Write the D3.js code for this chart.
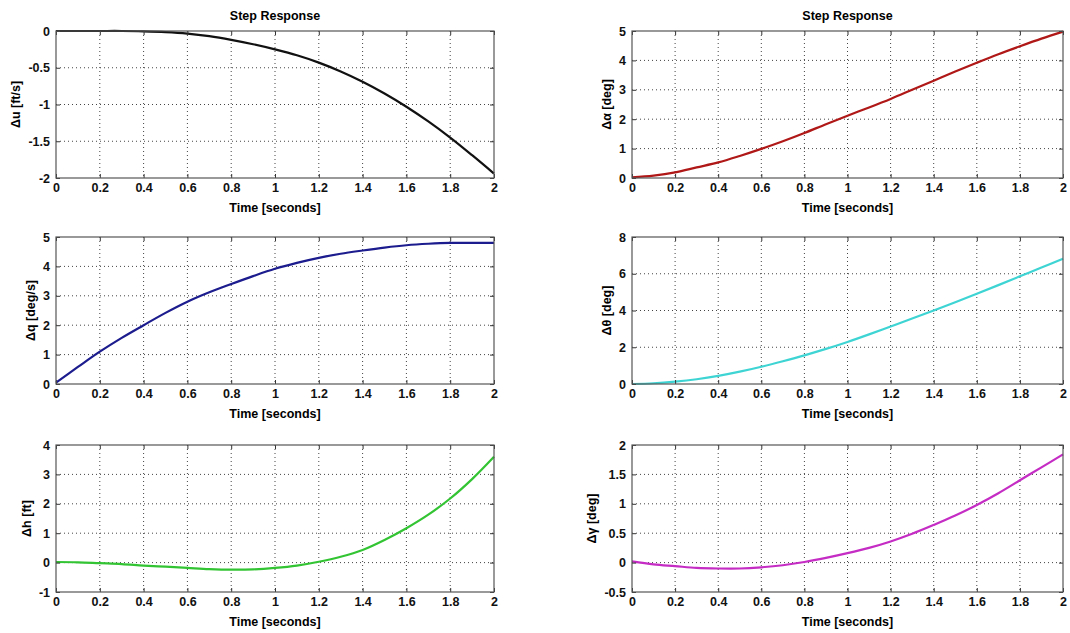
<!DOCTYPE html>
<html>
<head>
<meta charset="utf-8">
<script src="https://cdn.jsdelivr.net/npm/d3@7/dist/d3.min.js"></script>
<style>
    body { margin: 0; background: #fff; }
    svg { display: block; font-family: "Liberation Sans", Arial, sans-serif; }
    .tick text { font-size: 12.5px; font-weight: bold; fill: #111; }
</style>
</head>
<body>
<svg id="chart" width="1070" height="633"></svg>
<script>
// time samples [seconds]
const time = [0, 0.1, 0.2, 0.3, 0.4, 0.5, 0.6, 0.7, 0.8, 0.9, 1.0,
    1.1, 1.2, 1.3, 1.4, 1.5, 1.6, 1.7, 1.8, 1.9, 2.0];

// step response values
const duValues = [0, 0, 0, 0, -0.005, -0.015, -0.035, -0.07, -0.12, -0.18, -0.25,
    -0.33, -0.43, -0.55, -0.69, -0.85, -1.03, -1.23, -1.45, -1.69, -1.94];
const dalphaValues = [0.02, 0.08, 0.19, 0.36, 0.53, 0.75, 0.99, 1.25, 1.53, 1.83, 2.12,
    2.4, 2.69, 3.0, 3.31, 3.62, 3.92, 4.21, 4.48, 4.74, 4.98];
const dqValues = [0.05, 0.58, 1.1, 1.57, 2.0, 2.42, 2.8, 3.12, 3.4, 3.67, 3.92,
    4.12, 4.29, 4.43, 4.54, 4.64, 4.72, 4.77, 4.8, 4.8, 4.8];
const dthetaValues = [0, 0.04, 0.13, 0.26, 0.44, 0.67, 0.94, 1.24, 1.56, 1.91, 2.29,
    2.7, 3.13, 3.56, 4.0, 4.45, 4.91, 5.38, 5.86, 6.34, 6.82];
const dhValues = [0.02, 0.01, -0.02, -0.05, -0.1, -0.14, -0.18, -0.22, -0.24, -0.23, -0.18,
    -0.1, 0.03, 0.2, 0.43, 0.77, 1.17, 1.63, 2.18, 2.84, 3.6];
const dgammaValues = [0.02, -0.03, -0.06, -0.09, -0.1, -0.1, -0.08, -0.045, 0.01, 0.08, 0.16,
    0.25, 0.36, 0.49, 0.64, 0.8, 0.98, 1.18, 1.4, 1.62, 1.84];

// tick labels
const timeTicks = [0, 0.2, 0.4, 0.6, 0.8, 1, 1.2, 1.4, 1.6, 1.8, 2];
const duTicks = [-2, -1.5, -1, -0.5, 0];
const dalphaTicks = [0, 1, 2, 3, 4, 5];
const dqTicks = [0, 1, 2, 3, 4, 5];
const dthetaTicks = [0, 2, 4, 6, 8];
const dhTicks = [-1, 0, 1, 2, 3, 4];
const dgammaTicks = [-0.5, 0, 0.5, 1, 1.5, 2];

const yLabels = ["\u0394u [ft/s]", "\u0394\u03b1 [deg]", "\u0394q [deg/s]",
    "\u0394\u03b8 [deg]", "\u0394h [ft]", "\u0394\u03b3 [deg]"];
const lineColors = ["#111111", "#b01818", "#1c1c8e", "#3fd4d4", "#33c433", "#c42cc4"];

// panel table, left column then right column per row
const panels = [
    { values: duValues, ticks: duTicks, col: 0, row: 0 },
    { values: dalphaValues, ticks: dalphaTicks, col: 1, row: 0 },
    { values: dqValues, ticks: dqTicks, col: 0, row: 1 },
    { values: dthetaValues, ticks: dthetaTicks, col: 1, row: 1 },
    { values: dhValues, ticks: dhTicks, col: 0, row: 2 },
    { values: dgammaValues, ticks: dgammaTicks, col: 1, row: 2 },
];

const colLeft = [56, 632];
const colWidth = [438, 431];
const rowTop = [31, 237, 445];
const height = 147;

const svg = d3.select("#chart");

panels.forEach((p, i) => {
    const width = colWidth[p.col];
    const g = svg.append("g")
        .attr("transform", "translate(" + colLeft[p.col] + "," + rowTop[p.row] + ")");

    const x = d3.scaleLinear().domain([0, 2]).range([0, width]);
    const y = d3.scaleLinear()
        .domain([p.ticks[0], p.ticks[p.ticks.length - 1]])
        .range([height, 0]);

    // background
    g.append("rect")
        .attr("width", width)
        .attr("height", height)
        .style("fill", "#fff");

    // dotted grid
    g.append("g")
        .selectAll("line")
        .data(timeTicks.slice(1, -1))
        .enter()
        .append("line")
        .attr("x1", (d) => x(d))
        .attr("x2", (d) => x(d))
        .attr("y1", 0)
        .attr("y2", height)
        .style("stroke", "#444")
        .style("stroke-dasharray", "1,3");
    g.append("g")
        .selectAll("line")
        .data(p.ticks.slice(1, -1))
        .enter()
        .append("line")
        .attr("x1", 0)
        .attr("x2", width)
        .attr("y1", (d) => y(d))
        .attr("y2", (d) => y(d))
        .style("stroke", "#444")
        .style("stroke-dasharray", "1,3");

    // response curve
    const line = d3.line()
        .x((d, k) => x(time[k]))
        .y((d) => y(d))
        .curve(d3.curveCatmullRom);

    g.append("path")
        .datum(p.values)
        .attr("d", line)
        .style("fill", "none")
        .style("stroke", lineColors[i])
        .style("stroke-width", 2.2)
        .style("stroke-linejoin", "round");

    // axes with inward ticks
    const fmt = (d) => String(d);
    g.append("g")
        .attr("transform", "translate(0," + height + ")")
        .call(d3.axisBottom(x).tickValues(timeTicks).tickSizeInner(-4).tickSizeOuter(0).tickPadding(5).tickFormat(fmt));
    g.append("g")
        .call(d3.axisTop(x).tickValues(timeTicks).tickSizeInner(-4).tickSizeOuter(0).tickFormat(""));
    const yAxis = g.append("g")
        .call(d3.axisLeft(y).tickValues(p.ticks).tickSizeInner(-4).tickSizeOuter(0).tickPadding(6).tickFormat(fmt));
    g.append("g")
        .attr("transform", "translate(" + width + ",0)")
        .call(d3.axisRight(y).tickValues(p.ticks).tickSizeInner(-4).tickSizeOuter(0).tickFormat(""));

    g.selectAll(".domain").remove();
    g.selectAll(".tick line").style("stroke", "#333");

    // frame
    g.append("rect")
        .attr("width", width)
        .attr("height", height)
        .style("fill", "none")
        .style("stroke", "#555")
        .style("stroke-width", 1.2);

    // X label
    g.append("text")
        .attr("x", width / 2)
        .attr("y", height + 34)
        .attr("text-anchor", "middle")
        .style("font-size", "12.5px")
        .style("font-weight", "bold")
        .text("Time [seconds]");

    // Y label, placed left of the widest tick label
    const box = yAxis.node().getBBox();
    g.append("text")
        .attr("text-anchor", "middle")
        .attr("transform", "translate(" + (box.x - 8) + "," + height / 2 + ")rotate(-90)")
        .style("font-size", "12.5px")
        .style("font-weight", "bold")
        .text(yLabels[i]);

    // Title on top row
    if (p.row === 0) {
        g.append("text")
            .attr("x", width / 2)
            .attr("y", -11)
            .attr("text-anchor", "middle")
            .style("font-size", "12.5px")
            .style("font-weight", "bold")
            .text("Step Response");
    }
});
</script>
</body>
</html>
